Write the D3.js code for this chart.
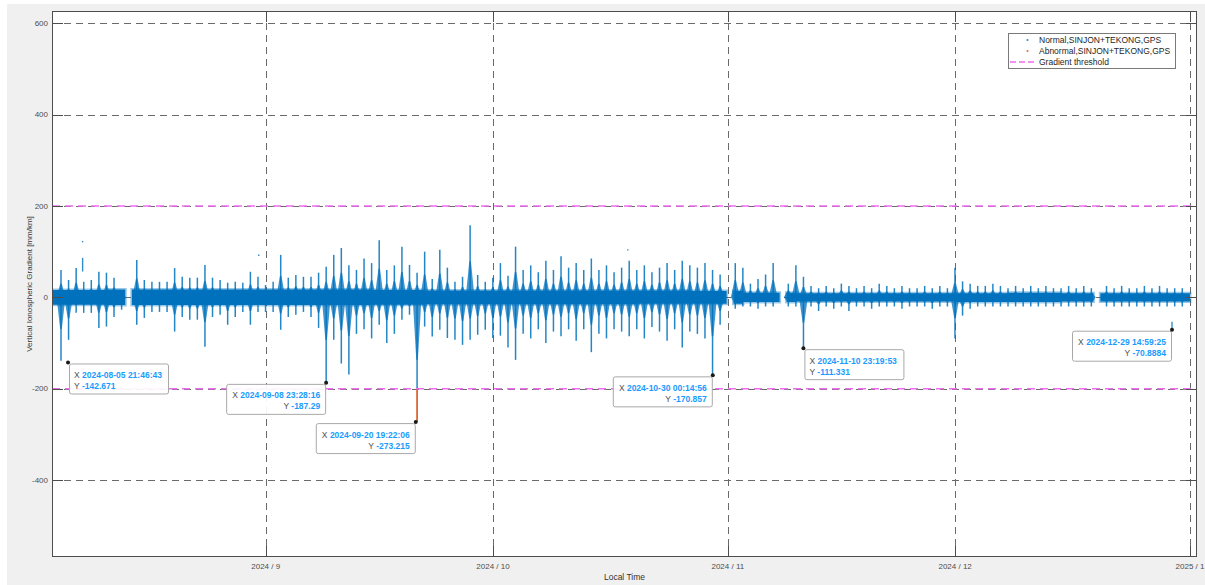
<!DOCTYPE html>
<html>
<head>
<meta charset="utf-8">
<script src="https://cdn.jsdelivr.net/npm/d3@7"></script>
<style>
  body { margin: 0; background: #fff; }
  svg text { font-family: "Liberation Sans", Arial, sans-serif; }
</style>
</head>
<body>
<div id="chart"></div>
<script>
// nightly bursts: one entry per night, first one on 2024-08-04 23:30 (null = no data)
const spikeStart = "2024-08-04 23:30";
const spikeHigh = [
  60, 38, 64, 34, 38, 56, 54, 43, 16, null,
  82, 38, 34, 34, 34, 64, 45, 43, 43, 71,
  43, 38, 32, 34, 32, 56, 45, 27, 34, 93,
  43, 49, 45, 45, 54, 67, 93, 108, 70, 60,
  85, 75, 125, 60, 70, 111, 71, 54, 100, 40,
  104, 65, 34, 45, 158, 49, 34, 43, 75, 47,
  111, 60, 70, 55, 80, 60, 90, 65, 75, 60,
  85, 60, 70, 55, 65, 80, 60, 70, 55, 65,
  75, 60, 80, 70, 65, 75, 60, 50, null, 75,
  65, 30, 40, 50, 75, null, 30, 70, 45, 25,
  20, 25, 20, 30, 25, 20, 25, 20, 30, 25,
  20, 25, 20, 20, 25, 20, 25, 20, 65, 35,
  30, 25, 25, 30, 25, 20, 25, 20, 25, 20,
  25, 20, 20, 25, 20, 25, 20, null, 25, 20,
  25, 20, 20, 25, 20, 25, 20, 20, 20
];
const spikeLow = [
  -139, -93, -34, -34, -34, -67, -64, -43, -27, null,
  -60, -45, -32, -32, -32, -75, -43, -49, -49, -108,
  -43, -38, -60, -43, -32, -60, -32, -32, -32, -71,
  -43, -38, -32, -43, -67, -187, -93, -145, -169, -80,
  -70, -90, -60, -100, -80, -49, -38, -273, -64, -86,
  -71, -89, -93, -104, -93, -82, -71, -89, -84, -110,
  -137, -80, -90, -70, -100, -75, -85, -70, -95, -70,
  -120, -80, -90, -70, -75, -85, -70, -90, -65, -75,
  -95, -70, -110, -75, -80, -90, -170, -60, null, -25,
  -20, -20, -25, -20, -20, null, -20, -20, -111, -20,
  -30, -20, -25, -20, -30, -20, -20, -25, -20, -20,
  -20, -25, -20, -20, -20, -25, -20, -20, -90, -40,
  -25, -20, -20, -20, -20, -20, -20, -20, -20, -20,
  -20, -20, -20, -20, -20, -20, -20, null, -20, -20,
  -20, -20, -20, -20, -20, -20, -20, -20, -20
];

// background scatter band, one value per week starting 2024-08-03
const bandWeekStart = "2024-08-03";
const bandUp = [16, 17, 17, 17, 17, 17, 16, 15, 15, 15, 15, 15, 14, 10, 9, 9, 9, 9, 10, 9, 9, 9];
const bandDown = [-16, -17, -17, -17, -17, -17, -16, -15, -15, -15, -15, -14, -14, -10, -9, -9, -9, -10, -10, -9, -9, -9];

// periods without data
const seriesStart = "2024-08-03 19:00";
const seriesEnd = "2024-12-31 23:50";
const gapStart = ["2024-08-13 11:00", "2024-10-31 20:00", "2024-11-07 20:00", "2024-12-19 06:00"];
const gapEnd = ["2024-08-14 08:00", "2024-11-01 18:00", "2024-11-08 18:00", "2024-12-20 04:00"];

// isolated samples away from the band
const strayTime = ["2024-08-07 20:00", "2024-08-07 20:00", "2024-08-31 02:00", "2024-10-18 19:00", "2024-12-29 15:00"];
const strayFrom = [55, 122, 92, 104, -55];
const strayTo = [88, 122, 92, 104, -70.9];

// data tips
const tipTime = ["2024-08-05 21:46:43", "2024-09-08 23:28:16", "2024-09-20 19:22:06",
                 "2024-10-30 00:14:56", "2024-11-10 23:19:53", "2024-12-29 14:59:25"];
const tipValue = ["-142.671", "-187.29", "-273.215", "-170.857", "-111.331", "-70.8884"];

const threshold = 200;
const yTicks = [-400, -200, 0, 200, 400, 600];
const monthTicks = ["2024-09-01", "2024-10-01", "2024-11-01", "2024-12-01", "2025-01-01"];
const monthLabels = ["2024 / 9", "2024 / 10", "2024 / 11", "2024 / 12", "2025 / 1"];
const legendLabels = ["Normal,SINJON+TEKONG,GPS", "Abnormal,SINJON+TEKONG,GPS", "Gradient threshold"];

function renderChart() {

    const parseTime = d3.timeParse("%Y-%m-%d %H:%M");
    const parseFull = d3.timeParse("%Y-%m-%d %H:%M:%S");
    const parseDay = d3.timeParse("%Y-%m-%d");

    const width = 1205, height = 585;
    const plot = { left: 52, top: 11, right: 1197, bottom: 557 };
    const blue = "#0072bd", orange = "#d95319", magenta = "#ee6ef0";

    const svg = d3.select("#chart").append("svg")
        .attr("width", width)
        .attr("height", height);

    // figure + axes background
    svg.append("rect").attr("x", 7).attr("y", 4).attr("width", width - 7).attr("height", height - 4).attr("fill", "#f0f0f0");
    svg.append("rect").attr("x", plot.left).attr("y", plot.top)
        .attr("width", plot.right - plot.left).attr("height", plot.bottom - plot.top).attr("fill", "#fff");

    svg.append("clipPath").attr("id", "clip").append("rect")
        .attr("x", plot.left).attr("y", plot.top)
        .attr("width", plot.right - plot.left).attr("height", plot.bottom - plot.top);

    const x = d3.scaleTime()
        .domain([parseTime("2024-08-03 19:00"), parseTime("2025-01-01 22:10")])
        .range([plot.left, plot.right]);
    const y = d3.scaleLinear()
        .domain([-568.6, 627])
        .range([plot.bottom, plot.top]);

    //grid
    const grid = svg.append("g").attr("stroke", "#6a6a6a").attr("stroke-width", 1).attr("stroke-dasharray", "7,5");
    yTicks.forEach(v => {
        grid.append("line").attr("x1", plot.left).attr("x2", plot.right)
            .attr("y1", Math.round(y(v)) + 0.5).attr("y2", Math.round(y(v)) + 0.5);
    });
    monthTicks.forEach(m => {
        const xx = Math.round(x(parseDay(m))) + 0.5;
        grid.append("line").attr("x1", xx).attr("x2", xx).attr("y1", plot.top).attr("y2", plot.bottom);
    });

    const data = svg.append("g").attr("clip-path", "url(#clip)");

    //background band, split at the data gaps
    const segStarts = [parseTime(seriesStart)].concat(gapEnd.map(parseTime));
    const segEnds = gapStart.map(parseTime).concat([parseTime(seriesEnd)]);
    const week0 = parseDay(bandWeekStart);
    const weekOf = t => Math.min(bandUp.length - 1, Math.floor(d3.timeDay.count(week0, t) / 7));

    const bandArea = d3.area()
        .curve(d3.curveStepAfter)
        .x(d => x(d.t))
        .y0(d => y(d.lo))
        .y1(d => y(d.hi));

    segStarts.forEach((s, i) => {
        const e = segEnds[i];
        const pts = [s].concat(d3.timeWeek.every(1).range(s, e).filter(t => t > s)).concat([e]);
        const rows = pts.map(t => ({ t: t, hi: bandUp[weekOf(t)], lo: bandDown[weekOf(t)] }));
        data.append("path").attr("d", bandArea(rows))
            .attr("fill", blue).attr("stroke", blue).attr("stroke-opacity", 0.4).attr("stroke-width", 3);
    });

    //nightly bursts
    const t0 = parseTime(spikeStart);
    const spikes = spikeHigh.map((h, i) => ({ t: d3.timeDay.offset(t0, i), hi: h, lo: spikeLow[i] }))
        .filter(d => d.hi !== null);

    // tuft at the foot of each burst
    const tuft = d => {
        const a = x(d3.timeHour.offset(d.t, -14)), b = x(d3.timeHour.offset(d.t, 14)), c = x(d.t);
        const up = y(d.hi * 0.5), dn = y(Math.max(d.lo * 0.5, -threshold));
        return `M${a},${y(0)}L${c - 0.8},${up}L${c + 0.8},${up}L${b},${y(0)}L${c + 0.8},${dn}L${c - 0.8},${dn}Z`;
    };
    data.selectAll("path.tuft").data(spikes).join("path")
        .attr("class", "tuft")
        .attr("d", tuft)
        .attr("fill", blue).attr("opacity", 0.75);

    data.selectAll("line.spike").data(spikes).join("line")
        .attr("class", "spike")
        .attr("x1", d => x(d.t)).attr("x2", d => x(d.t))
        .attr("y1", d => y(d.hi)).attr("y2", d => y(Math.max(d.lo, -threshold)))
        .attr("stroke", blue).attr("stroke-width", 1.5).attr("opacity", 0.85);

    // samples beyond the threshold -> abnormal
    data.selectAll("line.abnormal").data(spikes.filter(d => d.lo < -threshold)).join("line")
        .attr("class", "abnormal")
        .attr("x1", d => x(d.t)).attr("x2", d => x(d.t))
        .attr("y1", y(-threshold)).attr("y2", d => y(d.lo))
        .attr("stroke", orange).attr("stroke-width", 1.6);

    strayTime.forEach((s, i) => {
        const xx = x(parseTime(s));
        data.append("line").attr("x1", xx).attr("x2", xx)
            .attr("y1", y(strayFrom[i]) - 0.7).attr("y2", y(strayTo[i]) + 0.7)
            .attr("stroke", blue).attr("stroke-width", 1.4).attr("opacity", 0.8);
    });

    //threshold lines
    [threshold, -threshold].forEach(v => {
        svg.append("line").attr("x1", plot.left).attr("x2", plot.right)
            .attr("y1", y(v)).attr("y2", y(v))
            .attr("stroke", magenta).attr("stroke-width", 1.5).attr("stroke-dasharray", "8,5");
    });

    //axes box + inward ticks
    const ax = svg.append("g").attr("stroke", "#4d4d4d").attr("stroke-width", 1);
    ax.append("rect").attr("x", plot.left + 0.5).attr("y", plot.top + 0.5)
        .attr("width", plot.right - plot.left - 1).attr("height", plot.bottom - plot.top - 1).attr("fill", "none");
    yTicks.forEach(v => {
        const yy = Math.round(y(v)) + 0.5;
        ax.append("line").attr("x1", plot.left).attr("x2", plot.left + 11).attr("y1", yy).attr("y2", yy);
        ax.append("line").attr("x1", plot.right - 11).attr("x2", plot.right).attr("y1", yy).attr("y2", yy);
    });
    monthTicks.forEach(m => {
        const xx = Math.round(x(parseDay(m))) + 0.5;
        ax.append("line").attr("x1", xx).attr("x2", xx).attr("y1", plot.bottom - 11).attr("y2", plot.bottom);
        ax.append("line").attr("x1", xx).attr("x2", xx).attr("y1", plot.top).attr("y2", plot.top + 11);
    });

    //tick labels
    svg.append("g").selectAll("text").data(yTicks).join("text")
        .attr("x", plot.left - 4).attr("y", d => y(d)).attr("dy", "0.35em")
        .attr("text-anchor", "end").attr("font-size", 8).attr("fill", "#4d4d4d")
        .text(d => d);
    svg.append("g").selectAll("text").data(monthTicks).join("text")
        .attr("x", d => x(parseDay(d))).attr("y", plot.bottom + 12)
        .attr("text-anchor", "middle").attr("font-size", 8).attr("fill", "#4d4d4d")
        .text((d, i) => monthLabels[i]);

    //axis titles
    svg.append("text")
        .attr("transform", `translate(32,${(plot.top + plot.bottom) / 2}) rotate(-90)`)
        .attr("text-anchor", "middle").attr("font-size", 8).attr("fill", "#333")
        .text("Vertical Ionospheric Gradient [mm/km]");
    svg.append("text")
        .attr("x", (plot.left + plot.right) / 2).attr("y", 580)
        .attr("text-anchor", "middle").attr("font-size", 8.5).attr("fill", "#333")
        .text("Local Time");

    //legend
    const lg = svg.append("g").attr("transform", "translate(1008,33)");
    lg.append("rect").attr("x", 0.5).attr("y", 0.5).attr("width", 167).attr("height", 35)
        .attr("fill", "#fff").attr("stroke", "#7a7a7a");
    [blue, orange].forEach((c, i) => {
        lg.append("circle").attr("cx", 19.5).attr("cy", 7 + i * 11).attr("r", 1.1).attr("fill", c).attr("opacity", 0.8);
    });
    lg.append("line").attr("x1", 2).attr("x2", 29).attr("y1", 29).attr("y2", 29)
        .attr("stroke", magenta).attr("stroke-width", 1.5).attr("stroke-dasharray", "6,3");
    lg.selectAll("text").data(legendLabels).join("text")
        .attr("x", 31).attr("y", (d, i) => 7 + i * 11).attr("dy", "0.35em")
        .attr("font-size", 8.5).attr("fill", "#262626")
        .text(d => d);

    //data tips
    const tipRight = [true, false, false, false, true, false];
    tipTime.forEach((s, i) => {
        const tx = x(parseFull(s)), ty = y(+tipValue[i]);
        const bw = 99, bh = 30;
        const bx = tipRight[i] ? tx + 1 : tx - bw - 1;
        const g = svg.append("g");
        g.append("rect").attr("x", bx + 0.5).attr("y", ty + 1.5).attr("width", bw).attr("height", bh)
            .attr("rx", 2).attr("fill", "#fff").attr("fill-opacity", 0.92)
            .attr("stroke", "#a8a8a8");
        const anchor = tipRight[i] ? "start" : "end";
        const tx0 = tipRight[i] ? bx + 5 : bx + bw - 5;
        const rows = [["X ", s], ["Y ", tipValue[i]]];
        rows.forEach((r, j) => {
            const t = g.append("text").attr("x", tx0).attr("y", ty + 12.5 + j * 11).attr("dy", "0.35em")
                .attr("text-anchor", anchor).attr("font-size", 8.5);
            t.append("tspan").attr("fill", "#505050").text(r[0]);
            t.append("tspan").attr("fill", "#1a9bff").attr("font-weight", "bold").text(r[1]);
        });
        g.append("circle").attr("cx", tx).attr("cy", ty).attr("r", 2).attr("fill", "#1a1a1a");
    });
}

document.addEventListener("DOMContentLoaded", function () {
    renderChart();
});
</script>
</body>
</html>
